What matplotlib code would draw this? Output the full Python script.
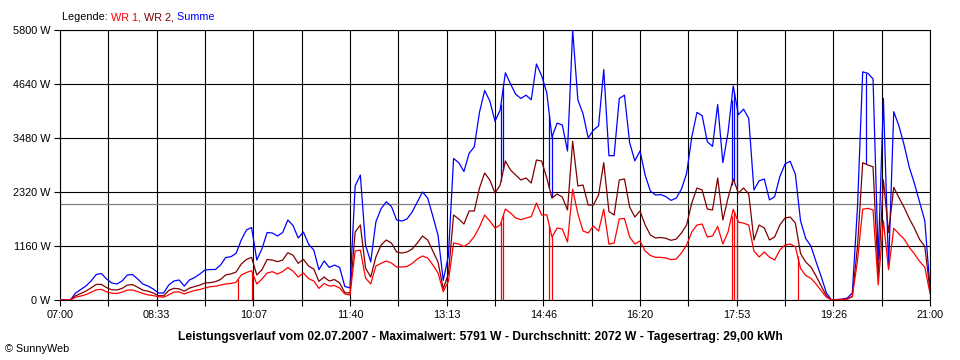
import matplotlib
matplotlib.use("Agg")
import matplotlib.pyplot as plt
import numpy as np

# minutes after 07:00, one sample every 5 minutes
times = np.arange(0, 845, 5)

# Summe (blue), one row per hour
summe = [
    0, 0, 0, 150, 225, 300, 408, 548, 569, 451, 365, 344,
    408, 537, 548, 451, 344, 300, 236, 150, 150, 322, 408, 430,
    300, 430, 483, 558, 644, 655, 655, 752, 913, 930, 1000, 1289,
    1504, 1557, 859, 1100, 1450, 1439, 1375, 1450, 1718, 1600, 1332, 1461,
    1200, 1074, 650, 840, 700, 750, 700, 290, 260, 2450, 2685, 1180,
    820, 1680, 1960, 2110, 2010, 1720, 1697, 1740, 1890, 2105, 2320, 2190,
    1800, 1390, 420, 950, 3040, 2950, 2760, 3150, 3290, 4030, 4500, 4275,
    3840, 4081, 4880, 4640, 4420, 4330, 4400, 4300, 5070, 4820, 4450, 3500,
    3800, 3760, 3200, 5791, 4300, 4000, 3480, 3650, 3740, 4950, 3100, 3100,
    4330, 4400, 3380, 2990, 3200, 2680, 2340, 2255, 2265, 2220, 2140, 2190,
    2380, 2720, 3500, 4030, 3960, 3400, 3300, 4200, 2950, 3600, 4600, 3980,
    4100, 3900, 2363, 2560, 2600, 2150, 2220, 2650, 2920, 2980, 2700, 1700,
    1320, 1160, 820, 500, 150, 0, 10, 20, 40, 150, 2000, 4900,
    4870, 4750, 860, 4330, 700, 4045, 3740, 3330, 2850, 2500, 2100, 1700,
    250,
]

# WR 2 (dark red)
wr2 = [
    0, 0, 0, 90, 140, 190, 260, 335, 335, 265, 220, 215,
    250, 320, 330, 275, 210, 190, 150, 95, 90, 205, 250, 240,
    190, 255, 290, 320, 365, 372, 395, 440, 540, 560, 600, 773,
    870, 917, 537, 650, 870, 859, 823, 859, 1016, 960, 788, 874,
    730, 666, 400, 494, 408, 440, 365, 157, 150, 1461, 1611, 687,
    494, 924, 1181, 1289, 1224, 1031, 1009, 1031, 1095, 1224, 1375, 1289,
    1053, 816, 240, 560, 1826, 1740, 1632, 1912, 1912, 2406, 2728, 2578,
    2298, 2470, 2986, 2792, 2685, 2578, 2621, 2513, 3007, 2986, 2621, 2191,
    2277, 2212, 1933, 3409, 2450, 2470, 2040, 2040, 2255, 2950, 1900, 1826,
    2578, 2600, 1998, 1783, 1912, 1611, 1396, 1332, 1343, 1325, 1282, 1310,
    1439, 1611, 2084, 2406, 2363, 1955, 1933, 2620, 1718, 2191, 2600, 2298,
    2406, 2277, 1289, 1611, 1547, 1289, 1353, 1611, 1761, 1783, 1654, 1000,
    816, 709, 516, 300, 90, 0, 5, 10, 20, 80, 1150, 2950,
    2900, 2863, 500, 2578, 1450, 2420, 2200, 1990, 1750, 1540, 1300, 1150,
    200,
]

# WR 1 (red)
wr1 = [
    0, 0, 0, 60, 85, 115, 165, 220, 228, 175, 145, 140,
    170, 212, 215, 180, 140, 110, 95, 70, 60, 110, 170, 175,
    130, 170, 205, 225, 258, 286, 295, 320, 345, 355, 380, 537,
    591, 629, 344, 450, 580, 608, 558, 612, 698, 620, 494, 580,
    460, 408, 250, 354, 300, 310, 258, 129, 107, 1053, 1074, 473,
    344, 730, 788, 838, 795, 709, 709, 720, 784, 881, 945, 902,
    752, 580, 180, 400, 1224, 1203, 1149, 1224, 1364, 1568, 1826, 1697,
    1547, 1611, 1955, 1869, 1761, 1725, 1761, 1790, 2084, 1826, 1830, 1353,
    1547, 1525, 1246, 2380, 1850, 1482, 1439, 1590, 1482, 1950, 1200, 1224,
    1740, 1750, 1353, 1203, 1267, 1053, 956, 917, 917, 902, 866, 880,
    1009, 1181, 1461, 1611, 1632, 1353, 1375, 1580, 1203, 1461, 1950, 1675,
    1650, 1611, 1053, 924, 1031, 920, 859, 1074, 1181, 1203, 1145, 680,
    526, 466, 344, 200, 60, 0, 5, 10, 20, 70, 850, 1950,
    1969, 1933, 322, 1700, 650, 1540, 1420, 1310, 1130, 990, 830, 700,
    140,
]

# short drops of WR 1 to zero, and the matching drops of the sum
wr1_dips = [172.1, 185.7, 425.8, 428.1, 472.5, 474.7, 648.5, 651.1, 653.4, 712.2]
summe_dips = [425.8, 428.1, 472.5, 474.7, 648.5, 651.1, 653.4, 778.0]

average = 2072
x_ticks = np.linspace(0, 840, 19)
x_labels = ['07:00', '', '08:33', '', '10:07', '', '11:40', '', '13:13', '',
            '14:46', '', '16:20', '', '17:53', '', '19:26', '', '21:00']
y_ticks = [0, 1160, 2320, 3480, 4640, 5800]
y_labels = ['0 W', '1160 W', '2320 W', '3480 W', '4640 W', '5800 W']

RED = '#ff0000'
DARKRED = '#800000'
BLUE = '#0000ff'

plt.rcParams['font.family'] = ['Liberation Sans', 'DejaVu Sans']
plt.rcParams['font.size'] = 7.8

fig = plt.figure(figsize=(9.6, 3.6), dpi=100)
ax = fig.add_axes([60 / 960, 1 - 300 / 360, 870 / 960, 270 / 360])

ax.set_xlim(0, 840)
ax.set_ylim(0, 5800)
ax.set_xticks(x_ticks)
ax.set_xticklabels(x_labels)
ax.set_yticks(y_ticks)
ax.set_yticklabels(y_labels)
ax.tick_params(length=4, width=0.8, color='black', pad=3)
ax.grid(True, color='black', lw=0.8, zorder=1)
for s in ax.spines.values():
    s.set_linewidth(0.8)

ax.axhline(average, color='#808080', lw=0.9, zorder=2)

ax.plot(times, summe, color=BLUE, lw=0.9, zorder=3)
ax.vlines(summe_dips, np.interp(summe_dips, times, wr2),
          np.interp(summe_dips, times, summe), color=BLUE, lw=0.9, zorder=3)
ax.plot(times, wr2, color=DARKRED, lw=0.9, zorder=4)
ax.plot(times, wr1, color=RED, lw=0.9, zorder=5)
ax.vlines(wr1_dips, 0, np.interp(wr1_dips, times, wr1), color=RED, lw=0.9, zorder=5)

# legend line above the plot, in colour pieces
t0 = fig.text(62 / 960, 1 - 17 / 360, 'Legende: ', va='center', ha='left')
t1 = ax.annotate('WR 1,', xy=(1, 0), xycoords=t0, va='bottom', color=RED)
t2 = ax.annotate(' WR 2,', xy=(1, 0), xycoords=t1, va='bottom', color=DARKRED)
ax.annotate(' Summe', xy=(1, 0), xycoords=t2, va='bottom', color=BLUE)

fig.text(0.5, 1 - 337 / 360,
         'Leistungsverlauf vom 02.07.2007 - Maximalwert: 5791 W - '
         'Durchschnitt: 2072 W - Tagesertrag: 29,00 kWh',
         ha='center', va='center', fontweight='bold', fontsize=8.7)
fig.text(5 / 960, 1 - 349 / 360, '\u00a9 SunnyWeb', ha='left', va='center')

fig.savefig('out.png', dpi=100, facecolor='white')
